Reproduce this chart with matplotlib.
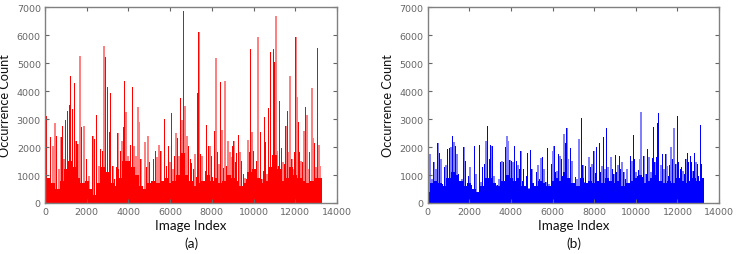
import matplotlib
matplotlib.use("Agg")
import matplotlib.pyplot as plt

# ---------------- data ----------------
# Panel (a): spike tops
spike_idx_a = [20, 80, 270, 380, 480, 560, 670, 780, 830, 910, 990, 1070, 1170, 1230, 1310,
               1420, 1500, 1570, 1680, 1760, 1870, 2000, 2110, 2190, 2290, 2380, 2480, 2580,
               2670, 2750, 2830, 2910, 2990, 3090, 3150, 3250, 3340, 3440, 3490,
               3530, 3610, 3690, 3760, 3820, 3880, 3980, 4090, 4190, 4270, 4360, 4460, 4510,
               4590, 4680, 4800, 4860, 4940, 5020, 5120, 5210, 5290, 5370, 5470, 5550, 5640,
               5720, 5820, 5920, 6000, 6060, 6140, 6200, 6280, 6360, 6430, 6490, 6570, 6650,
               6720, 6810, 6880, 6970,
               7030, 7110, 7190, 7260, 7310, 7370, 7450, 7530, 7610, 7690, 7750, 7830, 7910,
               7980, 8040, 8120, 8200, 8280, 8350, 8410, 8490, 8550, 8620, 8700, 8780, 8860,
               8920, 8990, 9050, 9130, 9190, 9270, 9350, 9430, 9510, 9590, 9670, 9740, 9800,
               9850, 9930, 9990, 10070, 10140, 10220, 10280, 10330, 10390, 10470, 10520,
               10580, 10650, 10720, 10820, 10950, 11000, 11070, 11130, 11190, 11250, 11330,
               11400, 11480, 11540, 11620, 11690, 11750, 11830, 11890, 11970, 12020, 12090,
               12150, 12210, 12280, 12340, 12410, 12490, 12550, 12610, 12690, 12790, 12850,
               12920, 13000, 13060, 13130, 13190]
spike_val_a = [2170, 3120, 2350, 2050, 2860, 2400, 1200, 2350, 2760, 1570, 2980, 3300, 3500, 4550, 3360,
               4300, 2230, 2100, 5260, 2700, 2760, 1570, 980, 260, 2400, 2290, 3140, 1330,
               1930, 1870, 5620, 5200, 4130, 2520, 3920, 1330, 860, 1300, 2500,
               1210, 1870, 2230, 2700, 4370, 3240, 1690, 2070, 4130, 2050, 1690, 3440, 2880,
               1570, 620, 2190, 1270, 2400, 1450, 440, 1570, 1870, 1630, 2080, 1870, 680,
               3000, 1330, 2020, 1450, 3200, 1210, 1690, 2490, 2310, 1690, 3740, 2960, 6870,
               3480, 2400, 2050, 1570,
               1420, 1210, 1750, 920, 3920, 6100, 1750, 1690, 680, 1130, 2790, 2050, 2050,
               1690, 920, 2580, 5180, 1830, 1390, 4330, 2610, 1250, 4370, 1330, 2230, 1830,
               1630, 2050, 2230, 1450, 1790, 2440, 1810, 1510, 1030, 880, 860, 2250, 1810,
               5500, 2520, 1870, 860, 1510, 5920, 860, 2520, 860, 1150, 3060,
               2190, 1030, 3380, 5380, 5500, 5020, 6690, 1870,
               1330, 3650, 1950, 1450, 1390, 2760, 3290, 1810, 4520, 1570, 1210, 1810, 5920,
               3770, 2880, 1810, 1510, 1450, 2580, 3420, 3140, 1210, 1810, 4100, 2310,
               2140, 1270, 5520, 2070, 1330]
# Panel (a): solid lower level
base_idx = [0, 200, 400, 600, 800, 1000, 1200, 1400, 1600, 1800, 2000, 2200, 2400, 2600,
            2800, 3000, 3200, 3400, 3600, 3800, 4000, 4200, 4400, 4600, 4800, 5000, 5200,
            5400, 5600, 5800, 6000, 6200, 6400, 6600, 6800, 7000, 7200, 7400, 7600, 7800,
            8000, 8200, 8400, 8600, 8800, 9000, 9200, 9400, 9600, 9800, 10000, 10200, 10400,
            10600, 10800, 11000, 11200, 11400, 11600, 11800, 12000, 12200, 12400, 12600,
            12800, 13000, 13200]
base_val_a = [500, 900, 700, 500, 800, 1200, 1500, 1300, 900, 700, 800, 500, 300, 700,
              1300, 1100, 700, 600, 900, 1500, 1500, 1300, 1000, 600, 500, 700, 800,
              700, 800, 900, 700, 800, 1000, 1800, 1000, 800, 600, 700, 800, 1000,
              800, 900, 700, 800, 1000, 900, 800, 600, 700, 1100, 1200, 900, 700,
              800, 1300, 1700, 1200, 800, 900, 1300, 1000, 900, 800, 700,
              800, 900, 900]

# Panel (b): spike tops
spike_idx_b = [30, 110, 210, 290, 400, 480, 560, 640, 720, 800, 880, 960, 1040, 1120, 1200,
               1260, 1340, 1410, 1470, 1570, 1650, 1730, 1810, 1870, 1950, 2030, 2110, 2190,
               2250, 2320, 2400, 2480, 2560, 2640, 2720, 2800, 2880, 2960, 3020, 3100, 3180,
               3260, 3340, 3420, 3490,
               3570, 3650, 3730, 3800, 3860, 3940, 4020, 4100, 4180, 4260, 4340, 4420, 4470,
               4550, 4610, 4680, 4740, 4800, 4870, 4930, 5000, 5080, 5160, 5240, 5300, 5380,
               5440, 5510, 5590, 5670, 5750, 5830, 5890, 5960, 6020, 6080, 6150, 6210, 6290,
               6360, 6420, 6480, 6550, 6610, 6680, 6740, 6800, 6870, 6930, 7000,
               7100, 7180, 7260, 7380, 7450, 7510, 7580, 7660, 7740, 7820, 7900, 7980, 8060,
               8120, 8180, 8250, 8310, 8380, 8440, 8520, 8600, 8660, 8740, 8810, 8870, 8940,
               9020, 9080, 9140, 9210, 9270, 9340, 9420, 9500, 9580, 9660, 9740, 9820, 9880,
               9940, 10010, 10070, 10140, 10200, 10250, 10310, 10380, 10440, 10500,
               10570, 10640, 10720, 10800, 10840, 10910, 10990, 11040, 11080, 11150, 11210,
               11290, 11360, 11440, 11500, 11560, 11630, 11690, 11760, 11840, 11920, 12000,
               12060, 12140, 12200, 12270, 12330, 12400, 12480, 12540, 12620, 12680, 12760,
               12830, 12890, 12960, 13020, 13100, 13160]
spike_val_b = [1430, 1750, 860, 1450, 1210, 2130, 1770, 1570, 680, 1270, 1360, 1930, 1980, 2010, 2400,
               2190, 2050, 1750, 1040, 500, 860, 2010, 1510, 500, 980, 1270, 640, 440,
               2050, 1040, 380, 2070, 740, 1270, 1390, 2230, 2740, 1570, 2070, 2050, 980,
               680, 650, 860, 1450,
               1510, 1450, 1990, 2400, 2230, 1540, 1510, 1450, 2050, 1510, 1360, 1210, 1870,
               800, 1210, 620, 980, 1770, 520, 1900, 1210, 500, 500, 1100, 1360, 860,
               1600, 1630, 1210, 740, 1950, 680, 500, 1390, 1870, 2050, 1100, 1150, 1750,
               1690, 1570, 980, 2460, 2140, 2670, 1570, 860, 1950, 1510, 560,
               920, 860, 2290, 3020, 1360, 740, 1330, 620, 1630, 1270, 1390, 1870, 1070,
               1990, 620, 2130, 1100, 1310, 2350, 1210, 2680, 1270, 620, 1650, 1210, 1040,
               1710, 1100, 1360, 1690, 1210, 1450, 1100, 860, 1210, 500, 1690, 1510, 2430,
               1570, 1100, 980, 1180, 1570, 3260, 920, 1690, 740, 1040,
               1930, 1630, 1100, 1600, 2730, 1450, 1630, 2850, 3200, 680, 1360,
               1750, 1210, 1750, 1330, 980, 1360, 2010, 1570, 2670, 1390, 3120,
               1450, 1210, 1270, 1150, 1040, 1570, 1770, 1450, 1690, 1450, 1150,
               1770, 1450, 1390, 980, 2790, 1390]
# Panel (b): solid lower level
base_val_b = [400, 700, 800, 700, 600, 900, 1100, 1000, 800, 600, 700, 500, 400, 600,
              900, 900, 700, 600, 800, 1000, 900, 800, 900, 600, 500, 700, 600,
              800, 700, 600, 800, 900, 800, 1100, 900, 700, 600, 900, 700, 800,
              700, 800, 700, 900, 800, 700, 800, 600, 700, 800, 900, 1000, 700,
              800, 900, 1000, 800, 700, 800, 700, 900, 800, 700, 800,
              900, 800, 900]

x_ticks = [0, 2000, 4000, 6000, 8000, 10000, 12000, 14000]
y_ticks = [0, 1000, 2000, 3000, 4000, 5000, 6000, 7000]
panel_tags = ["(a)", "(b)"]
x_label = "Image Index"
y_label = "Occurrence Count"

# ---------------- figure ----------------
fig = plt.figure(figsize=(7.47, 2.55), dpi=100)
axes_rects = [[0.0602, 0.200, 0.391, 0.7686], [0.5726, 0.200, 0.390, 0.7686]]
panels = [
    (spike_idx_a, spike_val_a, base_val_a, "#ff0000", "#ff8080"),
    (spike_idx_b, spike_val_b, base_val_b, "#0000ff", "#8080ff"),
]
label_font = ["Lato", "DejaVu Sans"]

for rect, (sx, sv, bv, full, light), tag in zip(axes_rects, panels, panel_tags):
    ax = fig.add_axes(rect)
    ax.bar(sx, sv, width=75, color=light, linewidth=0, align="center")
    ax.bar(sx, sv, width=28, color=full, linewidth=0, align="center")
    ax.bar(base_idx, bv, width=200, color=full, linewidth=0, align="center")
    ax.set_xlim(0, 14000)
    ax.set_ylim(0, 7000)
    ax.set_xticks(x_ticks)
    ax.set_yticks(y_ticks)
    ax.tick_params(direction="in", length=3, width=0.8, colors="#666666",
                   labelsize=6.8, top=True, right=True, pad=3)
    for lab in ax.get_xticklabels() + ax.get_yticklabels():
        lab.set_color("#666666")
    for s in ax.spines.values():
        s.set_color("#808080")
        s.set_linewidth(1.0)
    ax.set_xlabel(x_label, fontsize=9.6, family=label_font, color="#111111", labelpad=2)
    ax.set_ylabel(y_label, fontsize=9.2, family=label_font, color="#111111", labelpad=4)
    cx = rect[0] + rect[2] / 2
    fig.text(cx, 0.043, tag, ha="center", va="center", fontsize=9.8,
             family=label_font, color="#111111")

fig.savefig("out.png", dpi=100)
